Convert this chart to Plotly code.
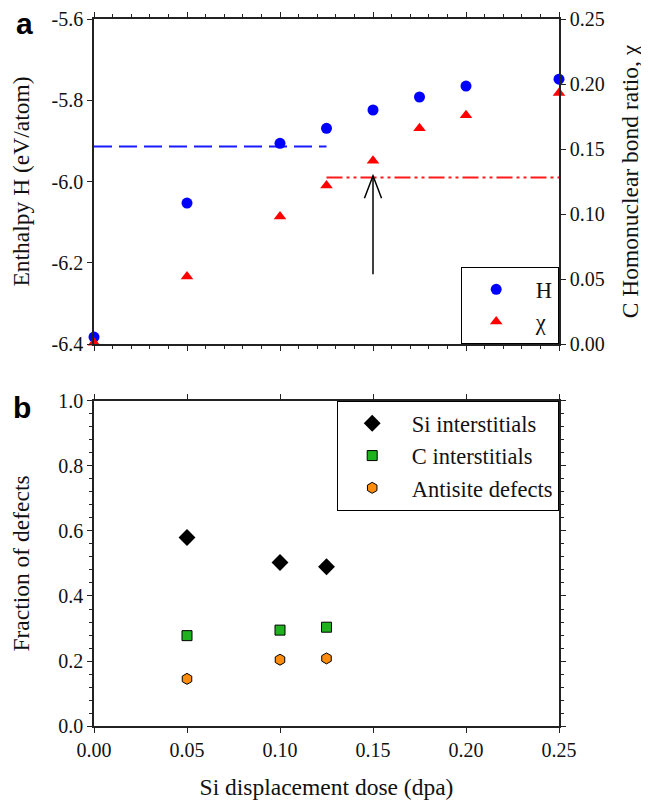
import plotly.graph_objects as go

# ---------------- data ----------------
dose_a = [0.0, 0.05, 0.10, 0.125, 0.15, 0.175, 0.20, 0.25]
enthalpy_H = [-6.383, -6.053, -5.906, -5.869, -5.824, -5.792, -5.765, -5.748]
chi_ratio = [0.001, 0.052, 0.098, 0.122, 0.141, 0.166, 0.176, 0.193]

H_ref_x = [0.0, 0.125]
H_ref_level = -5.914
chi_ref_x = [0.125, 0.25]
chi_ref_level = 0.128

arrow_x = 0.15
arrow_tail_H = -6.228
arrow_tip_H = -5.986
arrow_wing_dx = 0.0046
arrow_wing_dH = 0.055

dose_b = [0.05, 0.10, 0.125]
si_interstitials = [0.580, 0.503, 0.490]
c_interstitials = [0.278, 0.295, 0.304]
antisite_defects = [0.145, 0.204, 0.208]

H_ticks = [-6.4, -6.2, -6.0, -5.8, -5.6]
H_ticklabels = ["-6.4", "-6.2", "-6.0", "-5.8", "-5.6"]
chi_ticks = [0.0, 0.05, 0.10, 0.15, 0.20, 0.25]
chi_ticklabels = ["0.00", "0.05", "0.10", "0.15", "0.20", "0.25"]
dose_ticks = [0.0, 0.05, 0.10, 0.15, 0.20, 0.25]
dose_ticklabels = ["0.00", "0.05", "0.10", "0.15", "0.20", "0.25"]
frac_ticks = [0.0, 0.2, 0.4, 0.6, 0.8, 1.0]
frac_ticklabels = ["0.0", "0.2", "0.4", "0.6", "0.8", "1.0"]

# ---------------- styling ----------------
SERIF = "Liberation Serif, Times New Roman, serif"
AX = "#222222"
TICKF = dict(family=SERIF, size=20, color="#111")
TITLEF = dict(family=SERIF, size=23.5, color="#111")
LEGF = dict(family=SERIF, size=22.5, color="#111")
NB = "\u00a0"

fig = go.Figure()

# panel a
fig.add_trace(go.Scatter(x=H_ref_x, y=[H_ref_level] * len(H_ref_x), mode="lines",
                         line=dict(color="#1a1aff", width=2, dash="18px,7px"),
                         showlegend=False, hoverinfo="skip", xaxis="x", yaxis="y"))
fig.add_trace(go.Scatter(x=chi_ref_x, y=[chi_ref_level] * len(chi_ref_x), mode="lines",
                         line=dict(color="#ff1a1a", width=2, dash="16px,4px,3px,4px,3px,4px"),
                         showlegend=False, hoverinfo="skip", xaxis="x", yaxis="y2"))
fig.add_trace(go.Scatter(x=dose_a, y=enthalpy_H, mode="markers", name=NB + "H",
                         marker=dict(symbol="circle", size=11, color="#0000ff"),
                         cliponaxis=False, xaxis="x", yaxis="y", legend="legend"))
fig.add_trace(go.Scatter(x=dose_a, y=chi_ratio, mode="markers", name=NB + "χ",
                         marker=dict(symbol="triangle-up", size=11, color="#ff0000"),
                         cliponaxis=False, xaxis="x", yaxis="y2", legend="legend"))

# panel b
fig.add_trace(go.Scatter(x=dose_b, y=si_interstitials, mode="markers", name=NB + "Si interstitials",
                         marker=dict(symbol="diamond", size=13, color="#000000"),
                         cliponaxis=False, xaxis="x2", yaxis="y3", legend="legend2"))
fig.add_trace(go.Scatter(x=dose_b, y=c_interstitials, mode="markers", name=NB + "C interstitials",
                         marker=dict(symbol="square", size=10, color="#1fb21f",
                                     line=dict(color="#000", width=1)),
                         cliponaxis=False, xaxis="x2", yaxis="y3", legend="legend2"))
fig.add_trace(go.Scatter(x=dose_b, y=antisite_defects, mode="markers", name=NB + "Antisite defects",
                         marker=dict(symbol="hexagon", size=11, color="#ff8c0a",
                                     line=dict(color="#000", width=1)),
                         cliponaxis=False, xaxis="x2", yaxis="y3", legend="legend2"))

# arrow in panel a
fig.add_shape(type="line", xref="x", yref="y", x0=arrow_x, x1=arrow_x,
              y0=arrow_tail_H, y1=arrow_tip_H, line=dict(color="#000", width=1.5))
fig.add_shape(type="path", xref="x", yref="y",
              path=(f"M {arrow_x - arrow_wing_dx},{arrow_tip_H - arrow_wing_dH} "
                    f"L {arrow_x},{arrow_tip_H} L {arrow_x + arrow_wing_dx},{arrow_tip_H - arrow_wing_dH}"),
              line=dict(color="#000", width=1.5))

top_dom = [0.5403, 1.0]
bot_dom = [0.0, 0.4597]

common_axis = dict(showline=True, linecolor=AX, linewidth=1.5, ticks="outside",
                   ticklen=5, tickwidth=1.3, tickcolor=AX, showgrid=False,
                   zeroline=False, tickfont=TICKF, automargin=False)

# page body has an 8px margin: plot area spans x 94..559, y 19..726 on the page
fig.update_layout(
    width=641, height=792,
    margin=dict(l=86, r=90, t=11, b=74),
    paper_bgcolor="white", plot_bgcolor="white",
    font=dict(family=SERIF, size=20, color="#111"),
    xaxis=dict(common_axis, domain=[0, 1], anchor="y", range=[0, 0.25],
               tickvals=dose_ticks, showticklabels=False, mirror="ticks",
               minor=dict(dtick=0.01, tick0=0, ticks="outside", ticklen=3,
                          tickwidth=1.2, tickcolor=AX)),
    yaxis=dict(common_axis, domain=top_dom, anchor="x", range=[-6.4, -5.6],
               tickvals=H_ticks, ticktext=H_ticklabels,
               title=dict(text="Enthalpy H (eV/atom)", font=TITLEF, standoff=18)),
    yaxis2=dict(common_axis, overlaying="y", side="right", anchor="x", range=[0, 0.25],
                tickvals=chi_ticks, ticktext=chi_ticklabels,
                title=dict(text="C Homonuclear bond ratio, χ", font=TITLEF, standoff=18)),
    xaxis2=dict(common_axis, domain=[0, 1], anchor="y3", range=[0, 0.25],
                tickvals=dose_ticks, ticktext=dose_ticklabels, mirror="ticks",
                title=dict(text="Si displacement dose (dpa)", font=TITLEF, standoff=30)),
    yaxis3=dict(common_axis, domain=bot_dom, anchor="x2", range=[0, 1.0],
                tickvals=frac_ticks, ticktext=frac_ticklabels, mirror="ticks",
                minor=dict(dtick=0.04, tick0=0, ticks="outside", ticklen=3,
                           tickwidth=1.2, tickcolor=AX),
                title=dict(text="Fraction of defects", font=TITLEF, standoff=24)),
    legend=dict(x=1, xanchor="right", y=top_dom[0], yanchor="bottom",
                bgcolor="white", bordercolor="#000", borderwidth=1.2,
                font=LEGF, itemwidth=58),
    legend2=dict(x=1, xanchor="right", y=bot_dom[1], yanchor="top",
                 bgcolor="white", bordercolor="#000", borderwidth=1.2,
                 font=LEGF, itemwidth=58),
    annotations=[
        dict(text="<b>a</b>", xref="paper", yref="paper", x=-0.1495, y=0.9943,
             xanchor="center", yanchor="middle", showarrow=False,
             font=dict(family="Liberation Sans", size=30, color="#000")),
        dict(text="<b>b</b>", xref="paper", yref="paper", x=-0.155, y=0.4498,
             xanchor="center", yanchor="middle", showarrow=False,
             font=dict(family="Liberation Sans", size=30, color="#000")),
    ],
)

fig.write_html("out.html")
